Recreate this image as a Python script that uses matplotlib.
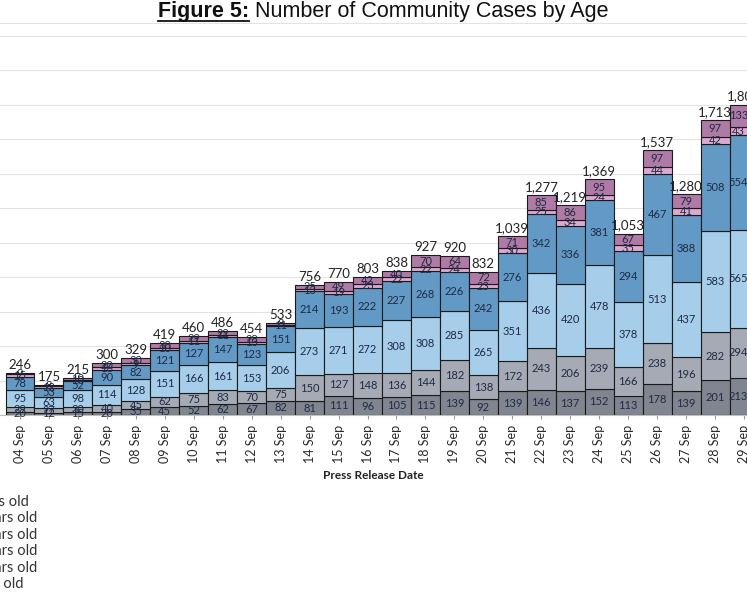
import matplotlib
matplotlib.use("Agg")
import matplotlib.pyplot as plt
import numpy as np

# press release dates (the 03 Sep column sits off the left edge of the crop)
dates = ["04 Sep", "05 Sep", "06 Sep", "07 Sep", "08 Sep", "09 Sep", "10 Sep",
         "11 Sep", "12 Sep", "13 Sep", "14 Sep", "15 Sep", "16 Sep", "17 Sep",
         "18 Sep", "19 Sep", "20 Sep", "21 Sep", "22 Sep", "23 Sep", "24 Sep",
         "25 Sep", "26 Sep", "27 Sep", "28 Sep", "29 Sep"]

# stacked from the bottom up
age_0_11 = [20, 12, 15, 20, 35, 45, 52, 62, 67, 82, 81, 111, 96, 105,
            115, 139, 92, 139, 146, 137, 152, 113, 178, 139, 201, 213]
age_12_19 = [29, 27, 30, 40, 45, 62, 75, 83, 70, 75, 150, 127, 148, 136,
             144, 182, 138, 172, 243, 206, 239, 166, 238, 196, 282, 294]
age_20_39 = [95, 63, 98, 114, 128, 151, 166, 161, 153, 206, 273, 271, 272, 308,
             308, 285, 265, 351, 436, 420, 478, 378, 513, 437, 583, 565]
age_40_59 = [78, 53, 52, 90, 82, 121, 127, 147, 123, 151, 214, 193, 222, 227,
             268, 226, 242, 276, 342, 336, 381, 294, 467, 388, 508, 554]
age_60_69 = [15, 12, 10, 16, 9, 10, 11, 11, 13, 11, 13, 19, 23, 22,
             22, 24, 23, 30, 25, 34, 24, 35, 44, 41, 42, 43]
age_70_up = [9, 8, 10, 20, 30, 30, 29, 22, 28, 8, 25, 49, 42, 40,
             70, 64, 72, 71, 85, 86, 95, 67, 97, 79, 97, 133]

series = [age_0_11, age_12_19, age_20_39, age_40_59, age_60_69, age_70_up]
labels = ["0-11 years old", "12-19 years old", "20-39 years old",
          "40-59 years old", "60-69 years old", "70+ years old"]
colors = ["#80858f", "#a6aab4", "#a6cde9", "#6399c5", "#dcaad0", "#b07aa6"]

W, H = 747, 598
fig = plt.figure(figsize=(W / 100, H / 100), dpi=100)
plt.rcParams["font.family"] = ["Lato", "DejaVu Sans"]

# axes runs past the left edge (value axis is cropped away)
ax = fig.add_axes([0, (H - 415) / H, 1, (415 - 23) / H])
x = np.arange(len(dates))
bottom = np.zeros(len(dates))
for vals, lab, col in zip(series, labels, colors):
    bars = ax.bar(x, vals, width=1.0, bottom=bottom, color=col,
                  edgecolor="#1a1a1a", linewidth=0.8, label=lab, zorder=3)
    ax.bar_label(bars, labels=[str(v) for v in vals], label_type="center",
                 fontsize=8, color="#1f2a44", zorder=4)
    bottom += np.array(vals)

totals = bottom.astype(int)
for xi, tot in zip(x, totals):
    ax.text(xi, tot + 12, f"{tot:,}", ha="center", va="bottom",
            fontsize=9.5, color="#222222")

ax.set_xlim(-20 / 28.96, (W - 20) / 28.96)
ax.set_ylim(0, 2275)
ax.set_yticks(np.arange(0, 2201, 200))
ax.yaxis.grid(True, color="#e3e3e3", linewidth=0.8, zorder=0)
ax.tick_params(axis="y", left=False, labelleft=False)
ax.set_xticks(x)
ax.set_xticklabels(dates, rotation=90, fontsize=9, color="#2a2a2a")
ax.tick_params(axis="x", length=3, color="#999999", pad=4)
for s in ["left", "right"]:
    ax.spines[s].set_visible(False)
ax.spines["top"].set_color("#e3e3e3")
ax.spines["bottom"].set_color("#bfbfbf")
ax.set_xlabel("Press Release Date", fontsize=8.5, fontweight="bold",
              color="#222222", labelpad=5)

# title with underlined "Figure 5:"
fig.canvas.draw()
r = fig.canvas.get_renderer()
ty = 1 - 11 / H
t1 = fig.text(0, ty, "Figure 5:", fontsize=15.5, fontweight="bold",
              family="Liberation Sans", va="center", color="#111111")
t2 = fig.text(0, ty, " Number of Community Cases by Age", fontsize=15.5,
              family="Liberation Sans", va="center", color="#111111")
w1 = t1.get_window_extent(r).width
w2 = t2.get_window_extent(r).width
x0 = 383 - (w1 + w2) / 2
t1.set_x(x0 / W)
t2.set_x((x0 + w1) / W)
fig.add_artist(plt.Line2D([x0 / W, (x0 + w1) / W], [1 - 20.5 / H, 1 - 20.5 / H],
                          color="#111111", linewidth=1.3, transform=fig.transFigure))

# legend list below the chart, markers cropped off the left edge
probe = fig.text(0, 0, labels[1], fontsize=10.5)
lw = probe.get_window_extent(r).width
probe.remove()
lx = (37 - lw) / W
for i, lab in enumerate(labels):
    fig.text(lx, 1 - (502 + 16.4 * i) / H, lab, fontsize=10.5,
             va="center", color="#333333")

fig.savefig("out.png", dpi=100)
